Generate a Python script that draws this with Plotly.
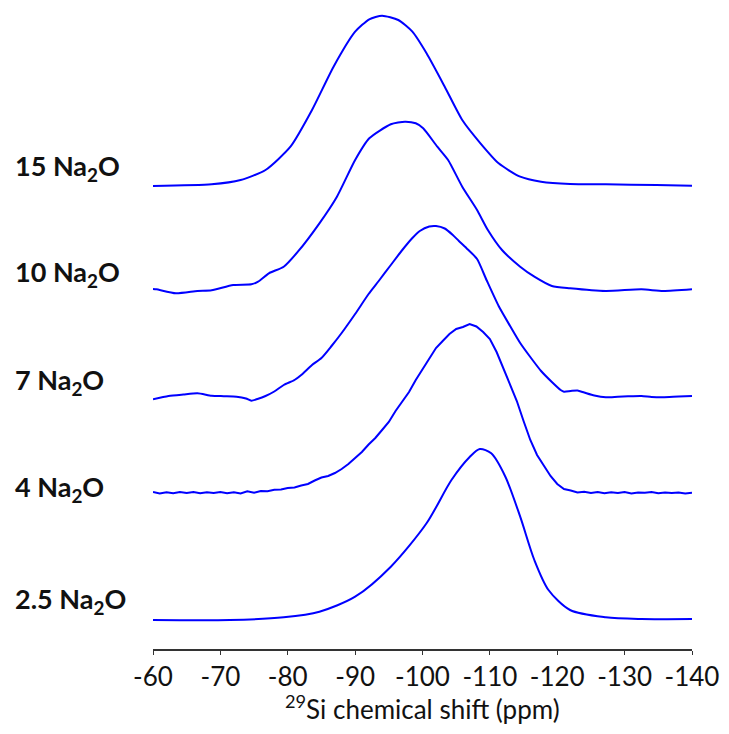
import plotly.graph_objects as go

# ---- data (ppm positions and intensities) ----
labels = ["2.5 Na<sub>2</sub>O", "4 Na<sub>2</sub>O", "7 Na<sub>2</sub>O", "10 Na<sub>2</sub>O", "15 Na<sub>2</sub>O"]
offsets = [29, 156, 251, 360, 463]

ppm_25 = [-60, -71.4, -79.4, -84.7, -90, -95.3, -100.6, -104.3, -107, -108.5, -110.2, -112.3,
          -114.5, -116.6, -118.7, -121.9, -127.2, -132.5, -140]
int_25 = [0, 0, 2.7, 8.3, 23.3, 53.3, 96.7, 140, 163, 171, 166.7, 143.3,
          103.3, 60, 30, 10, 2.7, 1, 1]

ppm_4 = [-60 - i for i in range(81)]
int_4 = [1, -0.5, 0.8, -0.3, 1, 0, 1, -0.3, 0.8, 0, 1, -0.2, 0.8, -0.5, 1.8, 0.3, 2, 1.8, 3.2, 3.5,
         5, 5.5, 7.5, 9, 12.5, 15.5, 17, 20, 24, 29, 35, 41, 48.5, 55, 63, 71, 82, 92, 101, 113,
         124, 134, 145, 152, 159, 164, 166, 169, 166.5, 161, 154, 141, 125, 108, 92, 72, 53, 38, 27, 17,
         9, 4, 2.5, 0.5, 1.2, 0, 1, -0.3, 0.8, 0, 1, -0.4, 0.6, 0.2, 1, -0.3, 0.5, 0, 0.6, -0.5, 0.3]

ppm_7 = [-60, -62.3, -64.5, -66.6, -68.7, -70.5, -72.4, -73.8, -74.6, -75.5, -76.7, -78, -79.4, -81,
         -82, -83.6, -85, -86.5, -88, -90, -92, -93.5, -95.3, -97, -98.5, -99.6, -101, -102, -103.3,
         -104.5, -105.4, -106.5, -108.1, -109.5, -111.3, -113, -114.5, -116, -117.6, -119.2, -120.5,
         -121, -122, -123, -124, -125.5, -127.2, -129, -130.5, -132.5, -134, -135.7, -138, -140]
int_7 = [-1.3, 2, 3.5, 4.7, 2.3, 1.8, 1.3, -0.5, -2.7, -1, 2, 6.5, 13, 18,
         23, 33, 40, 52, 65, 84, 104, 117, 133, 148, 160, 167, 171.5, 172, 169.5,
         163, 157, 150, 139, 118, 92, 72, 55, 41, 27, 16, 8,
         6.3, 7, 7.5, 5.5, 2.5, 0.7, 1.3, 1.7, 2, 1, 0.7, 1.5, 2]

ppm_10 = [-60, -60.5, -63.4, -66.6, -68.7, -71.9, -74.6, -75.6, -77.2, -79.4, -81.5, -84.7, -87.3, -90,
          -92.1, -95.3, -97.4, -99, -100.1, -102.2, -103.8, -105.9, -108.1, -109.7, -111.8, -114.5,
          -116.6, -119.2, -121.9, -127.2, -132.5, -135.7, -140]
int_10 = [0, -0.3, -4.3, -2, -1.3, 4, 4.7, 7.3, 15.7, 22.3, 37.3, 65.7, 92.3, 129,
          150.7, 164.7, 167.3, 165.7, 160.7, 142.3, 129, 102.3, 79, 59, 39, 22.3,
          12.3, 3, 0.7, -2, -0.3, -2, -0.3]

ppm_15 = [-60, -68.7, -73, -76.7, -80.4, -83.6, -86.8, -90, -92.1, -94, -96.4, -98.5, -100.6,
          -103.3, -105.9, -108.6, -111.3, -114.5, -117.6, -121.9, -127.2, -134.7, -140]
int_15 = [0, 1.7, 6, 16, 39.3, 76, 119.3, 154.3, 166.7, 170.3, 166, 154.3, 132.7,
          99.3, 66, 42.7, 22.7, 9.3, 4.3, 2, 1.7, 1, 0.3]

x_ticks = [-60, -70, -80, -90, -100, -110, -120, -130, -140]
x_title = "<sup>29</sup>Si chemical shift (ppm)"

series = [(ppm_25, int_25, 0.8), (ppm_4, int_4, 0), (ppm_7, int_7, 0.6),
          (ppm_10, int_10, 0.6), (ppm_15, int_15, 0.6)]

fig = go.Figure()
for (xs, ys, sm), off in zip(series, offsets):
    fig.add_trace(go.Scatter(
        x=xs, y=[v + off for v in ys], mode="lines",
        line=dict(color="#0000FF", width=2, shape="spline" if sm else "linear",
                  smoothing=sm if sm else None),
        showlegend=False, hoverinfo="skip"))

label_lift = [20, 5, 17, 16, 19]
for lab, off, lift in zip(labels, offsets, label_lift):
    fig.add_annotation(x=0, xref="paper", xanchor="left", xshift=-140,
                       y=off + lift, yref="y", yanchor="middle",
                       text="<b>" + lab + "</b>", showarrow=False,
                       font=dict(family="Lato", size=27, color="#111111"))

# axis title as an annotation below the tick labels
fig.add_annotation(x=0.5, xref="paper", xanchor="center",
                   y=0, yref="paper", yanchor="middle", yshift=-58,
                   text=x_title, showarrow=False,
                   font=dict(family="Lato", size=26, color="#111111"))

fig.update_layout(
    width=713, height=718,
    margin=dict(l=145, r=29, t=0, b=77),
    paper_bgcolor="white", plot_bgcolor="white",
    xaxis=dict(range=[-60, -140], tickvals=x_ticks, ticktext=[str(t) for t in x_ticks],
               showgrid=False, zeroline=False, showline=True, linecolor="#333333",
               linewidth=1.5, ticks="outside", ticklen=4, tickcolor="#333333",
               tickfont=dict(family="Lato", size=26, color="#111111"),
               automargin=False),
    yaxis=dict(range=[0, 641], visible=False),
)

fig.write_html("out.html")
